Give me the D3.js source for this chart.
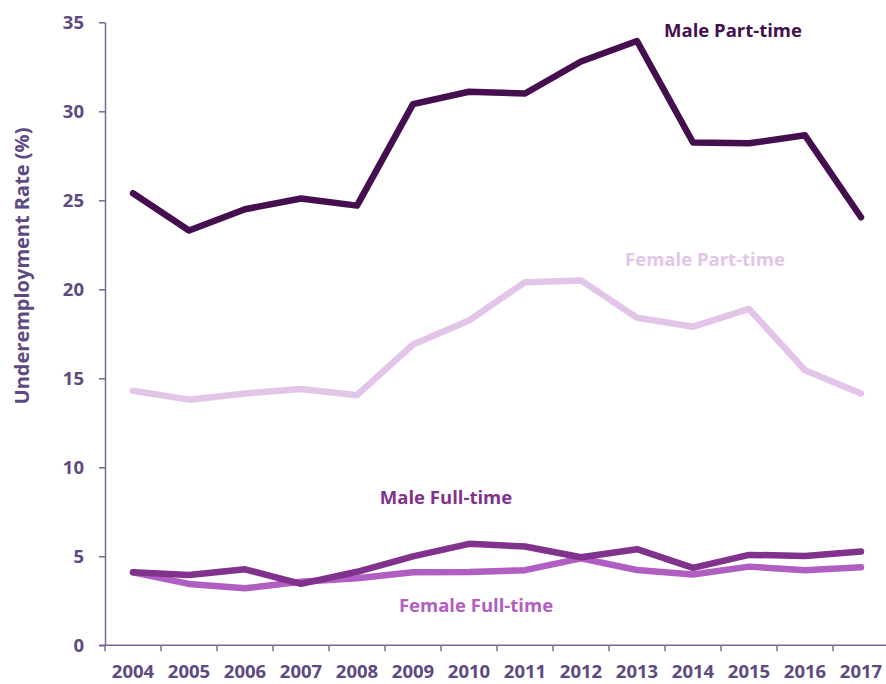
<!DOCTYPE html>
<html>
<head>
<meta charset="utf-8">
<script src="https://cdn.jsdelivr.net/npm/d3@7"></script>
<style>
  body { margin: 0; background: #fff; }
  svg text { font-family: "Open Sans", Lato, sans-serif; font-weight: bold; }
</style>
</head>
<body>
<div id="chart"></div>
<script>
// data
var years = ['2004','2005','2006','2007','2008','2009','2010','2011','2012','2013','2014','2015','2016','2017'];
var malePartTime   = [25.4, 23.3, 24.5, 25.1, 24.7, 30.4, 31.1, 31.0, 32.8, 33.95, 28.25, 28.2, 28.65, 24.05];
var femalePartTime = [14.3, 13.8, 14.15, 14.4, 14.05, 16.9, 18.25, 20.4, 20.5, 18.4, 17.9, 18.9, 15.45, 14.15];
var maleFullTime   = [4.1, 3.95, 4.27, 3.45, 4.13, 5.0, 5.7, 5.55, 4.95, 5.4, 4.35, 5.08, 5.02, 5.27];
var femaleFullTime = [4.1, 3.45, 3.2, 3.57, 3.77, 4.1, 4.12, 4.22, 4.88, 4.23, 3.98, 4.42, 4.22, 4.38];
var yTicks = [0, 5, 10, 15, 20, 25, 30, 35];

var series = [
  { name: 'Male Part-time',   values: malePartTime,   color: '#450f4f', lx: 733, ly: 31 },
  { name: 'Female Part-time', values: femalePartTime, color: '#e3c5e9', lx: 705, ly: 260 },
  { name: 'Male Full-time',   values: maleFullTime,   color: '#81328c', lx: 446, ly: 498 },
  { name: 'Female Full-time', values: femaleFullTime, color: '#b15ec3', lx: 476, ly: 606 }
];

var width = 886, height = 684;
var margin = { top: 22.3, left: 105, bottom: 684 - 645.3, right: -3 };
var axisColor = '#7b6597';
var textColor = '#5e4a82';

var svg = d3.select('#chart').append('svg')
  .attr('width', width)
  .attr('height', height);

var x = d3.scaleBand()
  .domain(years)
  .range([margin.left, width - margin.right]);

var y = d3.scaleLinear()
  .domain([0, 35])
  .range([height - margin.bottom, margin.top]);

// y axis
var yAxis = svg.append('g')
  .attr('transform', 'translate(' + margin.left + ',0)')
  .call(d3.axisLeft(y).tickValues(yTicks).tickSize(6).tickPadding(15).tickSizeOuter(0));
yAxis.select('.domain').attr('stroke', axisColor).attr('stroke-width', 1.5);
yAxis.selectAll('.tick line').attr('stroke', axisColor).attr('stroke-width', 1.5);
yAxis.selectAll('.tick text').attr('fill', textColor).style('font-size', '18.5px');

// x axis, ticks sit on the band edges
var xAxisG = svg.append('g')
  .attr('transform', 'translate(0,' + y(0) + ')');
xAxisG.append('line')
  .attr('x1', margin.left - 6).attr('x2', width + 5)
  .attr('stroke', axisColor).attr('stroke-width', 1.5);
xAxisG.selectAll('.edge')
  .data(years)
  .enter().append('line')
  .attr('class', 'edge')
  .attr('x1', function (d) { return x(d); })
  .attr('x2', function (d) { return x(d); })
  .attr('y1', 0).attr('y2', 6)
  .attr('stroke', axisColor).attr('stroke-width', 1.5);
xAxisG.selectAll('.lbl')
  .data(years)
  .enter().append('text')
  .attr('class', 'lbl')
  .attr('x', function (d) { return x(d) + x.bandwidth() / 2; })
  .attr('y', 33)
  .attr('text-anchor', 'middle')
  .attr('fill', textColor)
  .style('font-size', '18.5px')
  .text(function (d) { return d; });

// axis title
svg.append('text')
  .attr('transform', 'translate(29,' + 266 + ') rotate(-90)')
  .attr('text-anchor', 'middle')
  .attr('fill', textColor)
  .style('font-size', '20px')
  .text('Underemployment Rate (%)');

var line = d3.line()
  .x(function (d, i) { return x(years[i]) + x.bandwidth() / 2; })
  .y(function (d) { return y(d); });

// draw bottom-up so the part-time lines sit over the others like the original
svg.selectAll('.series')
  .data(series.slice().reverse())
  .enter().append('path')
  .attr('class', 'series')
  .attr('d', function (d) { return line(d.values); })
  .attr('fill', 'none')
  .attr('stroke', function (d) { return d.color; })
  .attr('stroke-width', 6.5)
  .attr('stroke-linejoin', 'round')
  .attr('stroke-linecap', 'round');

// inline labels
svg.selectAll('.label')
  .data(series)
  .enter().append('text')
  .attr('class', 'label')
  .attr('x', function (d) { return d.lx; })
  .attr('y', function (d) { return d.ly; })
  .attr('dy', '0.35em')
  .attr('text-anchor', 'middle')
  .attr('fill', function (d) { return d.color; })
  .style('font-size', '18.5px')
  .text(function (d) { return d.name; });
</script>
</body>
</html>
